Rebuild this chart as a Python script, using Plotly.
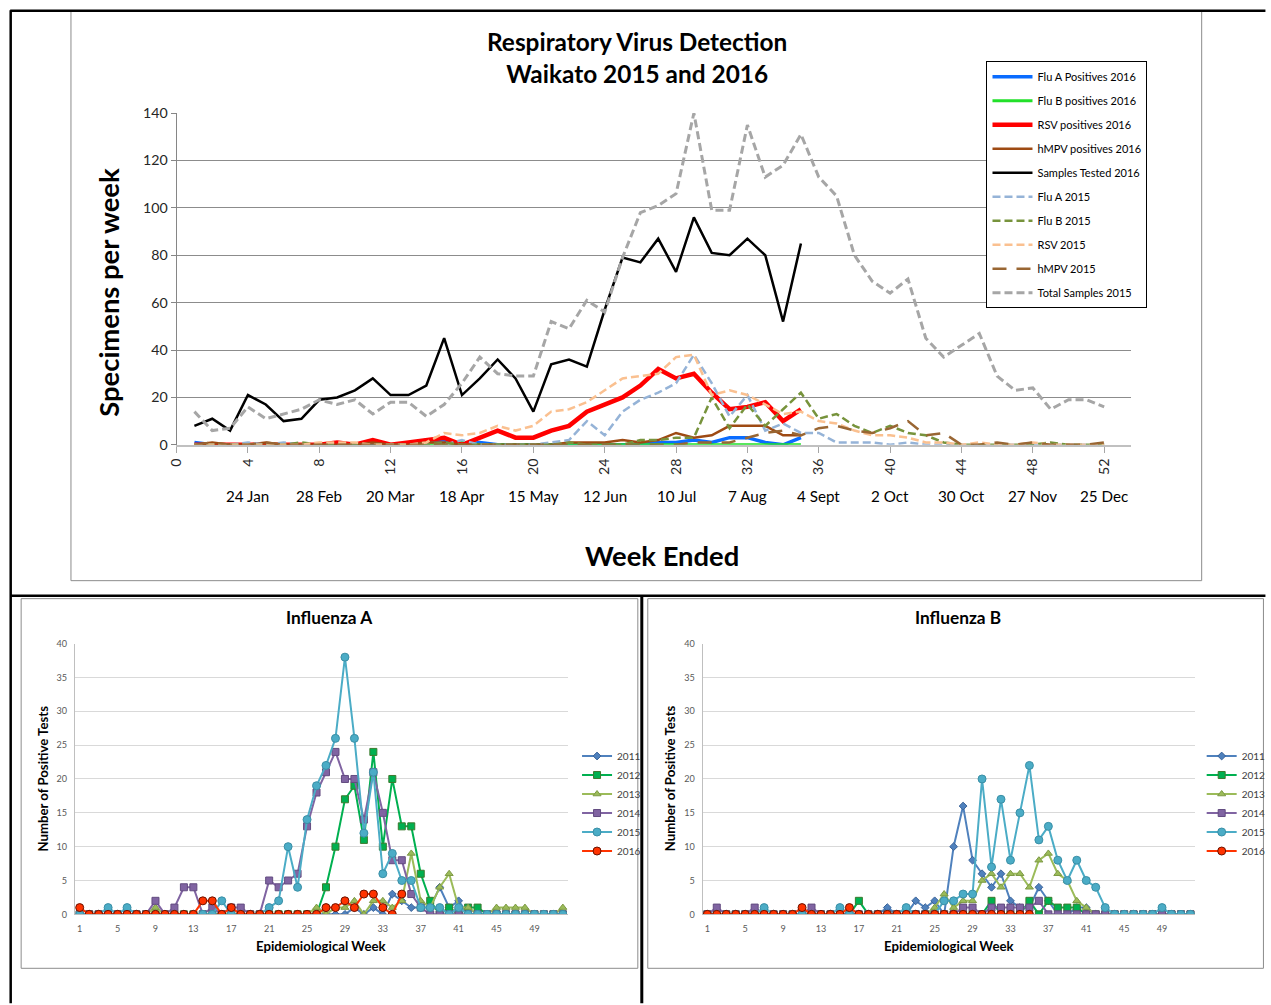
import plotly.graph_objects as go

# ---------------- DATA ----------------
weeks = list(range(1, 53))
weeks_2016 = list(range(1, 36))

date_tick_weeks = [4, 8, 12, 16, 20, 24, 28, 32, 36, 40, 44, 48, 52]
date_tick_labels = ["24 Jan", "28 Feb", "20 Mar", "18 Apr", "15 May", "12 Jun", "10 Jul",
                    "7 Aug", "4 Sept", "2 Oct", "30 Oct", "27 Nov", "25 Dec"]

# Main chart 2016 (weeks 1-35)
fluA_2016 = [1, 0, 0, 0, 0, 0, 0, 0, 0, 0,
             0, 0, 0, 2, 2, 0, 1, 0, 0, 0,
             0, 0, 0, 0, 0, 0, 1, 1, 2, 1,
             3, 3, 1, 0, 3]
fluB_2016 = [0, 0, 0, 0, 0, 0, 0, 0, 0, 0,
             1, 0, 0, 0, 0, 1, 0, 0, 0, 0,
             0, 0, 0, 0, 0, 0, 0, 0, 0, 0,
             0, 0, 0, 0, 0]
rsv_2016 = [0, 0, 0, 0, 0, 0, 0, 0, 1, 0,
            2, 0, 1, 2, 3, 0, 3, 6, 3, 3,
            6, 8, 14, 17, 20, 25, 32, 28, 30, 22,
            15, 16, 18, 10, 15]
hmpv_2016 = [0, 1, 0, 0, 1, 0, 0, 0, 0, 0,
             1, 0, 0, 1, 1, 0, 0, 0, 0, 0,
             0, 1, 1, 1, 2, 1, 2, 5, 3, 4,
             8, 8, 8, 4, 4]
samples_2016 = [8, 11, 6, 21, 17, 10, 11, 19, 20, 23,
                28, 21, 21, 25, 45, 21, 28, 36, 28, 14,
                34, 36, 33, 57, 79, 77, 87, 73, 96, 81,
                80, 87, 80, 52, 85]

# Main chart 2015 (weeks 1-52)
fluA_2015 = [0, 0, 0, 1, 0, 1, 0, 0, 0, 0,
             0, 0, 0, 0, 0, 2, 0, 0, 0, 0,
             1, 2, 10, 4, 14, 19, 22, 26, 38, 26,
             12, 21, 6, 9, 5, 5, 1, 1, 1, 0,
             1, 0, 0, 0, 0, 0, 0, 0, 0, 0,
             0, 0]
fluB_2015 = [0, 0, 0, 0, 0, 0, 1, 0, 0, 0,
             0, 0, 0, 0, 1, 0, 0, 0, 0, 0,
             0, 1, 0, 0, 0, 2, 2, 3, 3, 20,
             7, 17, 8, 15, 22, 11, 13, 8, 5, 8,
             5, 4, 1, 0, 0, 0, 0, 0, 1, 0,
             0, 0]
rsv_2015 = [0, 0, 0, 0, 0, 0, 0, 1, 1, 1,
            0, 0, 0, 1, 5, 4, 5, 8, 6, 8,
            14, 15, 18, 23, 28, 29, 30, 37, 38, 21,
            23, 21, 17, 13, 14, 10, 9, 6, 4, 4,
            3, 1, 1, 0, 1, 0, 0, 1, 0, 0,
            0, 0]
hmpv_2015 = [0, 1, 0, 0, 1, 0, 0, 0, 0, 0,
             0, 0, 0, 0, 0, 0, 0, 0, 0, 0,
             0, 0, 0, 0, 0, 0, 0, 0, 1, 1,
             1, 3, 5, 6, 4, 7, 8, 6, 5, 7,
             10, 4, 5, 0, 0, 1, 0, 1, 0, 0,
             0, 1]
total_2015 = [14, 6, 7, 16, 11, 13, 15, 19, 17, 19,
              13, 18, 18, 12, 17, 26, 37, 30, 29, 29,
              52, 49, 61, 56, 79, 98, 101, 106, 140, 99,
              99, 135, 113, 118, 131, 113, 105, 80, 69, 64,
              70, 45, 37, 42, 47, 29, 23, 24, 15, 19,
              19, 16]

# Influenza A by year (weeks 1-52; 2016 weeks 1-35)
infA_2011 = [0, 0, 0, 0, 0, 0, 0, 0, 0, 0,
             0, 0, 0, 0, 0, 0, 0, 0, 0, 0,
             0, 0, 0, 0, 0, 0, 0, 0, 0, 1,
             0, 1, 0, 3, 2, 1, 1, 1, 4, 1,
             2, 0, 0, 0, 0, 0, 0, 0, 0, 0,
             0, 0]
infA_2012 = [0, 0, 0, 0, 0, 0, 0, 0, 0, 0,
             0, 0, 0, 0, 0, 0, 0, 0, 0, 0,
             0, 0, 0, 0, 0, 0, 4, 10, 17, 19,
             11, 24, 10, 20, 13, 13, 6, 2, 0, 1,
             0, 1, 1, 0, 0, 0, 0, 0, 0, 0,
             0, 0]
infA_2013 = [0, 0, 0, 0, 0, 0, 0, 0, 1, 0,
             0, 0, 0, 0, 0, 0, 0, 0, 0, 0,
             0, 0, 0, 0, 0, 1, 0, 1, 1, 2,
             0, 2, 2, 1, 2, 9, 2, 1, 4, 6,
             1, 1, 0, 0, 1, 1, 1, 1, 0, 0,
             0, 1]
infA_2014 = [0, 0, 0, 0, 0, 0, 0, 0, 2, 0,
             1, 4, 4, 0, 1, 0, 1, 1, 0, 0,
             5, 4, 5, 6, 13, 18, 21, 24, 20, 20,
             14, 21, 15, 8, 8, 3, 1, 0, 0, 0,
             0, 0, 0, 0, 0, 0, 0, 0, 0, 0,
             0, 0]
infA_2015 = fluA_2015
infA_2016 = fluA_2016

# Influenza B by year
infB_2011 = [0, 0, 0, 0, 0, 0, 0, 0, 0, 0,
             0, 0, 0, 0, 0, 0, 0, 0, 0, 1,
             0, 0, 2, 1, 2, 0, 10, 16, 8, 6,
             4, 6, 2, 1, 1, 4, 2, 0, 0, 1,
             1, 0, 0, 0, 0, 0, 0, 0, 0, 0,
             0, 0]
infB_2012 = [0, 0, 0, 0, 0, 0, 0, 0, 0, 0,
             0, 0, 0, 0, 0, 0, 2, 0, 0, 0,
             0, 0, 0, 0, 0, 0, 0, 0, 0, 0,
             2, 0, 0, 0, 2, 0, 2, 1, 1, 1,
             0, 0, 0, 0, 0, 0, 0, 0, 0, 0,
             0, 0]
infB_2013 = [0, 0, 0, 0, 0, 0, 0, 0, 0, 0,
             0, 0, 0, 0, 0, 0, 0, 0, 0, 0,
             0, 0, 0, 0, 1, 3, 1, 2, 2, 5,
             6, 4, 6, 6, 4, 8, 9, 6, 5, 2,
             1, 0, 0, 0, 0, 0, 0, 0, 0, 0,
             0, 0]
infB_2014 = [0, 1, 0, 0, 0, 1, 0, 0, 0, 0,
             0, 1, 0, 0, 0, 0, 0, 0, 0, 0,
             0, 0, 0, 0, 0, 0, 0, 1, 1, 0,
             1, 1, 1, 1, 1, 2, 0, 0, 0, 0,
             0, 0, 0, 0, 0, 0, 0, 0, 0, 0,
             0, 0]
infB_2015 = fluB_2015
infB_2016 = fluB_2016

small_ticks = [1, 5, 9, 13, 17, 21, 25, 29, 33, 37, 41, 45, 49]

# ---------------- FIGURE ----------------
W, H = 1271, 1005
FONT = "Lato"
# the photographed page shows up framed (offset ~10px, scaled ~0.984);
# layout positions below are given in picture pixels and converted here
SHIFT, SCALE_X, SCALE_Y = 9.8, 0.988, 0.984


def fx(p):
    return ((p - SHIFT) / SCALE_X) / W


def fy(p):
    return 1 - ((p - SHIFT) / SCALE_Y) / H


def fs(size):
    return round(size / SCALE_Y, 1)


fig = go.Figure()

main_styles = [
    ("Flu A Positives 2016", weeks_2016, fluA_2016, "#0A6CFF", 3.5, "solid"),
    ("Flu B positives 2016", weeks_2016, fluB_2016, "#22E02A", 3, "solid"),
    ("RSV positives 2016", weeks_2016, rsv_2016, "#FF0000", 4.5, "solid"),
    ("hMPV positives 2016", weeks_2016, hmpv_2016, "#9E4A13", 2.5, "solid"),
    ("Samples Tested 2016", weeks_2016, samples_2016, "#000000", 2.5, "solid"),
    ("Flu A 2015", weeks, fluA_2015, "#95B3D7", 2.5, "8px,4px"),
    ("Flu B 2015", weeks, fluB_2015, "#77933C", 2.5, "8px,4px"),
    ("RSV 2015", weeks, rsv_2015, "#FAC090", 2.5, "8px,4px"),
    ("hMPV 2015", weeks, hmpv_2015, "#996633", 2.5, "14px,10px"),
    ("Total Samples 2015", weeks, total_2015, "#A6A6A6", 3, "8px,4px"),
]
for i, (name, xs, ys, col, lw, dash) in enumerate(main_styles):
    fig.add_trace(go.Scatter(
        x=xs, y=ys, name=name, mode="lines",
        line=dict(color=col, width=lw, dash=dash),
        xaxis="x", yaxis="y", legend="legend", legendgroup="m%d" % i,
    ))

year_styles = [
    ("2011", "#4F81BD", "diamond", 6, "#3A6399"),
    ("2012", "#00B050", "square", 7, "#3C7A2E"),
    ("2013", "#9BBB59", "triangle-up", 7, "#7E9A45"),
    ("2014", "#8064A2", "square", 7, "#634C80"),
    ("2015", "#4BACC6", "circle", 8, "#3A8FA6"),
    ("2016", "#FF3300", "circle", 8, "#6B1200"),
]
infA = [infA_2011, infA_2012, infA_2013, infA_2014, infA_2015, infA_2016]
infB = [infB_2011, infB_2012, infB_2013, infB_2014, infB_2015, infB_2016]

for (yr, col, sym, ms, mcol), ya in zip(year_styles, infA):
    fig.add_trace(go.Scatter(
        x=weeks[:len(ya)], y=ya, name=yr, mode="lines+markers",
        line=dict(color=col, width=2),
        marker=dict(symbol=sym, size=ms, color=col, line=dict(color=mcol, width=1)),
        xaxis="x2", yaxis="y2", legend="legend2", legendgroup="a" + yr,
    ))
for (yr, col, sym, ms, mcol), yb in zip(year_styles, infB):
    fig.add_trace(go.Scatter(
        x=weeks[:len(yb)], y=yb, name=yr, mode="lines+markers",
        line=dict(color=col, width=2),
        marker=dict(symbol=sym, size=ms, color=col, line=dict(color=mcol, width=1)),
        xaxis="x3", yaxis="y3", legend="legend3", legendgroup="b" + yr,
    ))

# ---------------- AXES ----------------
main_x0, main_x1 = 178, 1136     # picture positions of week 0 and week 53.5
small_x = dict(range=[0.5, 52.5], tickmode="array", tickvals=small_ticks,
               ticks="outside", ticklen=6, tickcolor="rgba(0,0,0,0)",
               showline=True, linecolor="#BFBFBF", showgrid=False, zeroline=False,
               tickfont=dict(family=FONT, size=fs(9), color="#595959"))
small_y = dict(range=[0, 40], tickmode="array", tickvals=list(range(0, 41, 5)),
               ticks="outside", ticklen=5, tickcolor="rgba(0,0,0,0)",
               showline=True, linecolor="#BFBFBF",
               showgrid=True, gridcolor="#D9D9D9", zeroline=False,
               tickfont=dict(family=FONT, size=fs(9), color="#595959"))
fig.update_layout(
    xaxis=dict(domain=[fx(main_x0), fx(main_x1)], range=[0, 53.5], anchor="y",
               tickmode="array", tickvals=list(range(0, 53, 4)), tickangle=-90,
               ticks="outside", ticklen=6, tickcolor="#A6A6A6",
               showline=True, linecolor="#C0C0C0", linewidth=2,
               showgrid=False, zeroline=False,
               tickfont=dict(family=FONT, size=fs(14), color="#262626")),
    yaxis=dict(domain=[fy(446), fy(114)], range=[0, 140], anchor="x",
               tickmode="array", tickvals=list(range(0, 141, 20)),
               ticks="outside", ticklen=5, tickcolor="#868686",
               showline=True, linecolor="#868686", linewidth=1,
               showgrid=True, gridcolor="#8C8C8C", gridwidth=1, zeroline=False,
               tickfont=dict(family=FONT, size=fs(14), color="#262626")),
    xaxis2=dict(domain=[fx(76), fx(570.5)], anchor="y2", **small_x),
    yaxis2=dict(domain=[fy(916), fy(645)], anchor="x2", **small_y),
    xaxis3=dict(domain=[fx(706), fx(1200.5)], anchor="y3", **small_x),
    yaxis3=dict(domain=[fy(916), fy(645)], anchor="x3", **small_y),
)

# ---------------- LEGENDS ----------------
fig.update_layout(
    legend=dict(x=fx(991), y=fy(62), xanchor="left", yanchor="top",
                bordercolor="#000000", borderwidth=1, bgcolor="#FFFFFF",
                font=dict(family=FONT, size=11, color="#000000"),
                traceorder="grouped", tracegroupgap=5, itemwidth=40),
    legend2=dict(x=fx(580), y=fy(743), xanchor="left", yanchor="top",
                 bgcolor="rgba(0,0,0,0)",
                 font=dict(family=FONT, size=10, color="#404040"),
                 traceorder="grouped", tracegroupgap=0, itemwidth=30),
    legend3=dict(x=fx(1207), y=fy(743), xanchor="left", yanchor="top",
                 bgcolor="rgba(0,0,0,0)",
                 font=dict(family=FONT, size=10, color="#404040"),
                 traceorder="grouped", tracegroupgap=0, itemwidth=30),
)

# ---------------- TEXT ----------------
ann = []


def label(text, x, y, size, angle=0, xref="paper"):
    ann.append(dict(text=text, x=x, y=y, xref=xref, yref="paper", showarrow=False,
                    xanchor="center", yanchor="middle", textangle=angle,
                    font=dict(family=FONT, size=fs(size), color="#000000")))


label("<b>Respiratory Virus Detection<br>Waikato 2015 and 2016</b>", fx(640), fy(58), 24)
label("<b>Specimens per week</b>", fx(110), fy(293), 27, angle=-90)
label("<b>Week Ended</b>", fx(665), fy(557), 27)
for wk, lab in zip(date_tick_weeks, date_tick_labels):
    label(lab, wk, fy(497), 15, xref="x")
for cx, title in [(332, "Influenza A"), (962, "Influenza B")]:
    label("<b>%s</b>" % title, fx(cx), fy(619), 17)
for cx in [44, 674]:
    label("<b>Number of Positive Tests</b>", fx(cx), fy(780), 13, angle=-90)
for cx in [323, 953]:
    label("<b>Epidemiological Week</b>", fx(cx), fy(948), 13)

# ---------------- FRAMES ----------------
shapes = []


def box(x0, y0, x1, y1, col, w):
    shapes.append(dict(type="rect", xref="paper", yref="paper",
                       x0=fx(x0), x1=fx(x1), y0=fy(y1), y1=fy(y0),
                       line=dict(color=col, width=w), layer="below"))


def seg(x0, y0, x1, y1, col, w):
    shapes.append(dict(type="line", xref="paper", yref="paper",
                       x0=fx(x0), x1=fx(x1), y0=fy(y0), y1=fy(y1),
                       line=dict(color=col, width=w)))


box(72, 12, 1207, 582, "#8C8C8C", 1)
box(22, 600, 641, 970, "#8C8C8C", 1)
box(651, 600, 1269, 970, "#8C8C8C", 1)
seg(11, 11.5, 1271, 11.5, "#000000", 2.5)
seg(11.5, 11, 11.5, 1005, "#000000", 2.5)
seg(11, 597, 1271, 597, "#000000", 2.5)
seg(645, 597, 645, 1005, "#000000", 3)

fig.update_layout(
    width=W, height=H,
    margin=dict(l=0, r=0, t=0, b=0),
    paper_bgcolor="#FFFFFF", plot_bgcolor="rgba(0,0,0,0)",
    font=dict(family=FONT),
    annotations=ann, shapes=shapes,
)

# pin the figure to the top-left corner of the window
pin = ("document.documentElement.style.margin='0';document.body.style.margin='0';"
       "var gd=document.getElementById('{plot_id}');gd.style.position='fixed';"
       "gd.style.left='0px';gd.style.top='0px';")
fig.write_html("out.html", config={"displayModeBar": False}, post_script=pin)
